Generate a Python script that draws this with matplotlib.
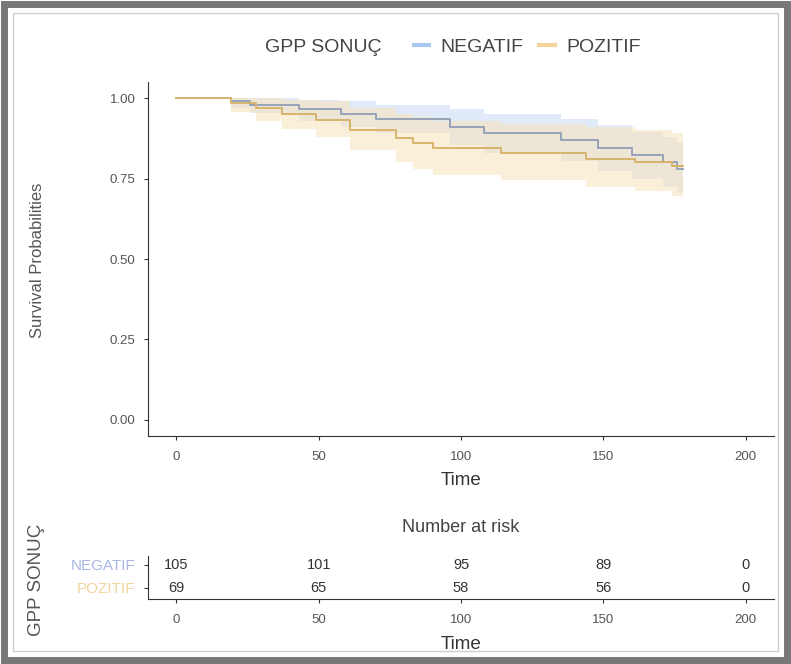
"""Kaplan-Meier curves by GPP SONUÇ with number-at-risk table."""
import matplotlib

matplotlib.use("Agg")
import matplotlib.pyplot as plt
from matplotlib.lines import Line2D
from matplotlib.patches import Rectangle

plt.rcParams["font.family"] = ["Liberation Sans", "DejaVu Sans"]

# ---- data ----
groups = ["NEGATIF", "POZITIF"]

neg_time = [0, 19, 26, 43, 58, 70, 96, 108, 135, 148, 160, 171, 176, 178]
neg_surv = [1.0, 0.99, 0.98, 0.966, 0.95, 0.934, 0.911, 0.891, 0.869, 0.844, 0.822, 0.80, 0.78, 0.78]
neg_upper = [1.0, 1.0, 1.0, 0.995, 0.99, 0.98, 0.965, 0.95, 0.935, 0.915, 0.895, 0.88, 0.865, 0.865]
neg_lower = [1.0, 0.97, 0.955, 0.93, 0.91, 0.89, 0.855, 0.83, 0.805, 0.775, 0.75, 0.725, 0.705, 0.705]

pos_time = [0, 19, 28, 37, 49, 61, 77, 83, 90, 114, 144, 161, 174, 178]
pos_surv = [1.0, 0.986, 0.97, 0.952, 0.933, 0.902, 0.875, 0.859, 0.844, 0.829, 0.812, 0.80, 0.788, 0.788]
pos_upper = [1.0, 1.0, 1.0, 0.995, 0.99, 0.97, 0.95, 0.94, 0.93, 0.92, 0.91, 0.90, 0.89, 0.89]
pos_lower = [1.0, 0.958, 0.93, 0.905, 0.88, 0.84, 0.80, 0.78, 0.76, 0.745, 0.725, 0.71, 0.695, 0.695]

risk_times = [0, 50, 100, 150, 200]
risk_neg = [105, 101, 95, 89, 0]
risk_pos = [69, 65, 58, 56, 0]

x_ticks = [0, 50, 100, 150, 200]
y_ticks = [0.0, 0.25, 0.5, 0.75, 1.0]

# ---- style ----
line_cols = {"NEGATIF": "#97a3b8", "POZITIF": "#d8b46c"}
fill_cols = {"NEGATIF": "#c9daf5", "POZITIF": "#f7e3bb"}
key_cols = {"NEGATIF": "#a9c8ef", "POZITIF": "#f2d49a"}
label_cols = {"NEGATIF": "#a9b6e6", "POZITIF": "#efd69c"}
tick_col = "#555555"
spine_col = "#333333"

W, H = 791, 664
fig = plt.figure(figsize=(W / 100, H / 100), dpi=100)


def frac_box(left, top, right, bottom):
    return [left / W, 1 - bottom / H, (right - left) / W, (bottom - top) / H]


def style_axes(ax):
    for side in ("top", "right"):
        ax.spines[side].set_visible(False)
    for side in ("left", "bottom"):
        ax.spines[side].set_color(spine_col)
        ax.spines[side].set_linewidth(0.8)
    ax.tick_params(colors=spine_col, labelcolor=tick_col, labelsize=9.5,
                   length=3, width=0.8, direction="out")


# ---- main survival panel ----
ax = fig.add_axes(frac_box(148, 82, 774, 436))
series = [
    ("NEGATIF", neg_time, neg_surv, neg_upper, neg_lower),
    ("POZITIF", pos_time, pos_surv, pos_upper, pos_lower),
]
for name, t, s, up, lo in series:
    ax.fill_between(t, lo, up, step="post", color=fill_cols[name], alpha=0.55,
                    linewidth=0)
for name, t, s, up, lo in series:
    ax.step(t, s, where="post", color=line_cols[name], linewidth=1.4)

ax.set_xlim(-10, 210)
ax.set_ylim(-0.05, 1.05)
ax.set_xticks(x_ticks)
ax.set_yticks(y_ticks)
ax.set_yticklabels([f"{v:.2f}" for v in y_ticks])
ax.set_xlabel("Time", fontsize=13.5, color="#333333", labelpad=6)
ax.set_ylabel("Survival Probabilities", fontsize=12, color="#555555")
ax.yaxis.set_label_coords(45 / W, 1 - 260 / H, transform=fig.transFigure)
style_axes(ax)
ax.tick_params(axis="x", pad=8)
ax.tick_params(axis="y", pad=6)

# legend across the top
fig.text(265 / W, 1 - 47 / H, "GPP SONUÇ", fontsize=14, color="#444444",
         va="center", ha="left")
handles = [Line2D([0], [0], color=key_cols[g], lw=3) for g in groups]
fig.legend(handles, groups, loc="center left", bbox_to_anchor=(396 / W, 1 - 47 / H),
           ncol=2, frameon=False, fontsize=14, handlelength=0.8,
           handletextpad=0.6, columnspacing=0.8, labelcolor="#444444")

# ---- number at risk table ----
axr = fig.add_axes(frac_box(148, 556, 774, 599))
for row, (name, counts) in enumerate([("NEGATIF", risk_neg), ("POZITIF", risk_pos)]):
    yrow = 2 - row
    for tt, n in zip(risk_times, counts):
        axr.text(tt, yrow, str(n), ha="center", va="center", fontsize=10.5,
                 color="#333333")
axr.set_xlim(-10, 210)
axr.set_ylim(0.52, 2.39)
axr.set_xticks(x_ticks)
axr.set_yticks([2, 1])
axr.set_yticklabels(groups)
style_axes(axr)
for lbl, g in zip(axr.get_yticklabels(), groups):
    lbl.set_color(label_cols[g])
axr.tick_params(axis="x", pad=8)
axr.tick_params(axis="y", pad=6, labelsize=11)
axr.set_title("Number at risk", fontsize=13, color="#444444", pad=17)
axr.set_xlabel("Time", fontsize=13.5, color="#333333", labelpad=7)
axr.set_ylabel("GPP SONUÇ", fontsize=13.5, color="#555555")
axr.yaxis.set_label_coords(45 / W, 1 - 580 / H, transform=fig.transFigure)

# ---- outer frame ----
fig.patches.append(Rectangle((4 / W, 4 / H), (W - 8) / W, (H - 8) / H,
                             transform=fig.transFigure, fill=False,
                             edgecolor="#777777", linewidth=5))
fig.patches.append(Rectangle((13 / W, 13 / H), (W - 26) / W, (H - 26) / H,
                             transform=fig.transFigure, fill=False,
                             edgecolor="#cfcfcf", linewidth=1))

fig.savefig("out.png", dpi=100)
